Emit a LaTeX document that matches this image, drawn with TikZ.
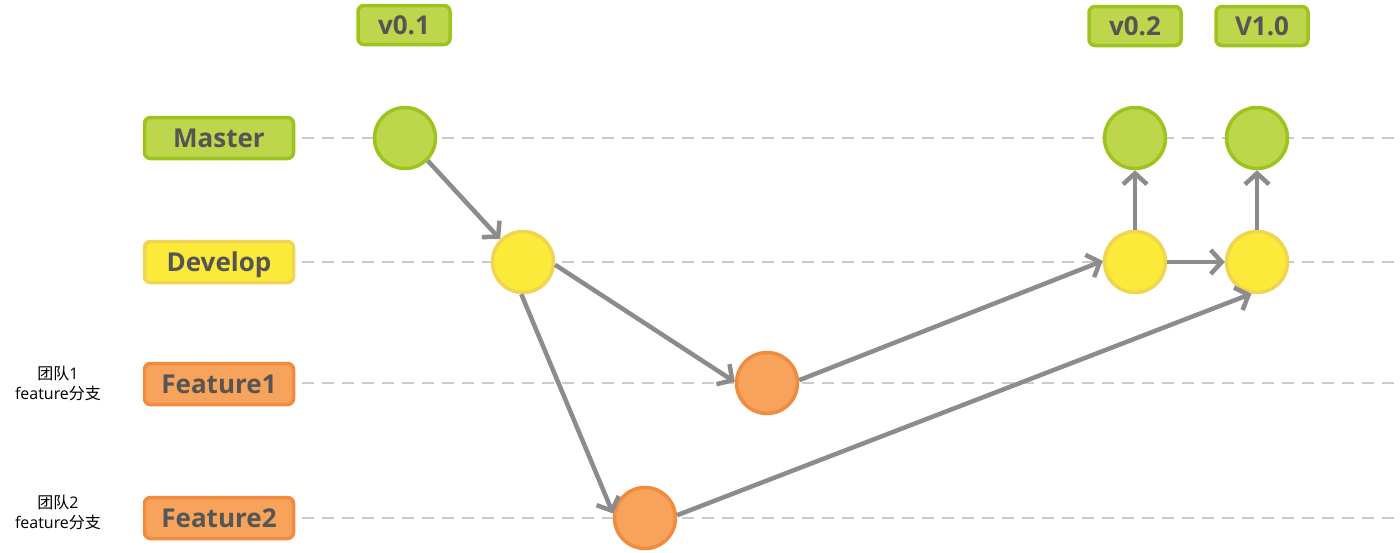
\documentclass[tikz,border=0pt]{standalone}
\usepackage{fontspec}
\setmainfont{Open Sans}
\newfontfamily\cjk{Noto Sans CJK SC}
\usetikzlibrary{arrows.meta}
\definecolor{gfill}{HTML}{BDD64B}
\definecolor{gdraw}{HTML}{9DC41E}
\definecolor{yfill}{HTML}{FCEA3A}
\definecolor{ydraw}{HTML}{EFD550}
\definecolor{ofill}{HTML}{F7A35C}
\definecolor{odraw}{HTML}{F08B3F}
\definecolor{txt}{HTML}{555555}
\definecolor{arrgray}{HTML}{8C8C8C}
\definecolor{lanegray}{HTML}{CCCCCC}
\tikzset{
  x=1pt,y=-1pt,
  lbl/.style={draw, line width=3.5pt, rounded corners=6pt, minimum width=149pt, minimum height=41pt, inner sep=0pt, text height=21pt, text depth=2pt, text=txt, font=\fontsize{26}{26}\selectfont\bfseries},
  tag/.style={draw, line width=3.5pt, rounded corners=6pt, minimum width=92pt, minimum height=39pt, inner sep=0pt, text height=21pt, text depth=2pt, text=txt, font=\fontsize{26}{26}\selectfont\bfseries},
  gbox/.style={fill=gfill, draw=gdraw},
  ybox/.style={fill=yfill, draw=ydraw},
  obox/.style={fill=ofill, draw=odraw},
  commit/.style={circle, line width=3.5pt, minimum size=61pt, inner sep=0pt},
  lane/.style={draw=lanegray, line width=2pt, dash pattern=on 12pt off 8pt},
  flow/.style={draw=arrgray, line width=4.5pt, -{Straight Barb[length=11pt,width=24pt,line width=4.5pt]}},
  note/.style={align=center, font=\fontsize{16}{20}\selectfont, text=black}
}
\begin{document}
\begin{tikzpicture}
\useasboundingbox (0,0) rectangle (1400,552);
% lanes
\coordinate (l1a) at (302,138); \coordinate (l1b) at (1400,138);
\coordinate (l2a) at (302,262); \coordinate (l2b) at (1400,262);
\coordinate (l3a) at (302,383); \coordinate (l3b) at (1400,383);
\coordinate (l4a) at (302,518); \coordinate (l4b) at (1400,518);
\draw[lane] (l1a) -- (l1b);
\draw[lane] (l2a) -- (l2b);
\draw[lane] (l3a) -- (l3b);
\draw[lane] (l4a) -- (l4b);
% branch labels
\node[lbl,gbox] (master) at (219,138) {Master};
\node[lbl,ybox] (develop) at (219,262) {Develop};
\node[lbl,obox] (feat1) at (219,384) {Feature1};
\node[lbl,obox] (feat2) at (219,518) {Feature2};
\node[note] (n1) at (58,383) {{\cjk 团队}1\\feature{\cjk 分支}};
\node[note] (n2) at (58,512) {{\cjk 团队}2\\feature{\cjk 分支}};
% tags
\node[tag,gbox] (t1) at (404,25) {v0.1};
\node[tag,gbox] (t2) at (1135,26) {v0.2};
\node[tag,gbox] (t3) at (1262,26) {V1.0};
% commits
\node[commit,fill=gfill,draw=gdraw] (m1) at (405,138) {};
\node[commit,fill=gfill,draw=gdraw] (m2) at (1135,138) {};
\node[commit,fill=gfill,draw=gdraw] (m3) at (1257,138) {};
\node[commit,fill=yfill,draw=ydraw] (d1) at (523,262) {};
\node[commit,fill=yfill,draw=ydraw] (d2) at (1135,262) {};
\node[commit,fill=yfill,draw=ydraw] (d3) at (1257,262) {};
\node[commit,fill=ofill,draw=odraw] (f1) at (767,383) {};
\node[commit,fill=ofill,draw=odraw] (f2) at (645,518) {};
% connectors
\draw[flow] (m1.-45) -- (d1.135);
\draw[flow] (d1.-5) -- (f1.178);
\draw[flow] (d1.-93) -- (f2.172);
\draw[flow] (f1.5) -- (d2.178);
\draw[flow] (f2.5) -- (d3.-100);
\draw[flow] (d2.east) -- (d3.west);
\draw[flow] (d2.north) -- (m2.south);
\draw[flow] (d3.north) -- (m3.south);
\end{tikzpicture}
\end{document}
